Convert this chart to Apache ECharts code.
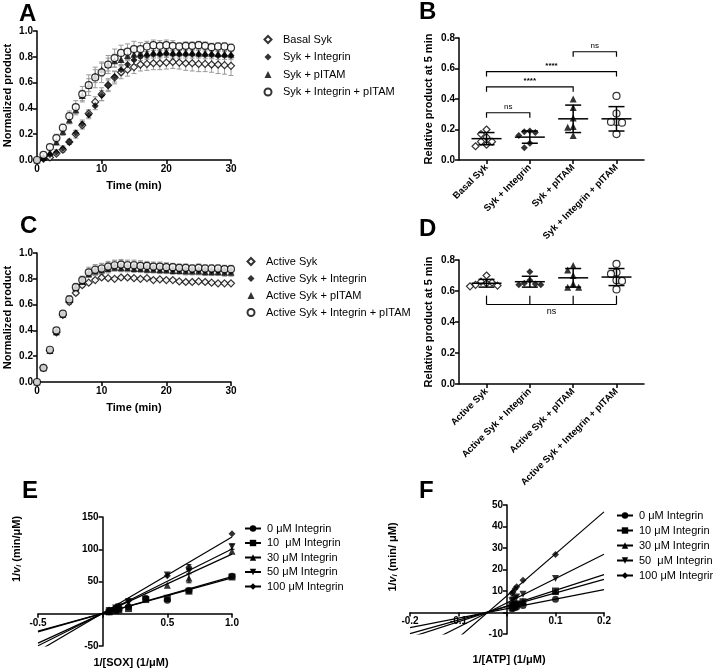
<!DOCTYPE html>
<html>
<head>
<meta charset="utf-8">
<script src="https://cdn.jsdelivr.net/npm/echarts@6/dist/echarts.min.js"></script>
<style>
  html, body { margin: 0; padding: 0; background: #fff; }
  #chart { width: 713px; height: 670px; }
</style>
</head>
<body>
<div id="chart"></div>
<script>
// ---- dados -------------------------------------------------------------
// A: tempo x produto normalizado (Syk basal)
var timeMin = [0,1,2,3,4,5,6,7,8,9,10,11,12,13,14,15,16,17,18,19,20,21,22,23,24,25,26,27,28,29,30];
var basalSyk      = [0,0.01,0.02,0.05,0.08,0.14,0.20,0.27,0.36,0.45,0.51,0.58,0.64,0.68,0.70,0.72,0.74,0.745,0.75,0.75,0.755,0.76,0.755,0.75,0.75,0.745,0.745,0.74,0.74,0.735,0.73];
var sykIntegrin   = [0,0.01,0.04,0.06,0.09,0.14,0.21,0.28,0.35,0.42,0.50,0.58,0.645,0.70,0.74,0.775,0.80,0.81,0.82,0.82,0.825,0.82,0.82,0.82,0.82,0.82,0.815,0.815,0.81,0.81,0.81];
var sykPitam      = [0,0.02,0.06,0.14,0.22,0.31,0.39,0.50,0.58,0.65,0.70,0.74,0.77,0.78,0.81,0.82,0.83,0.83,0.835,0.835,0.84,0.835,0.835,0.835,0.835,0.83,0.83,0.83,0.825,0.825,0.82];
var sykIntPitam   = [0,0.04,0.10,0.17,0.25,0.34,0.41,0.51,0.58,0.64,0.68,0.74,0.79,0.83,0.84,0.86,0.86,0.88,0.89,0.885,0.89,0.885,0.88,0.885,0.885,0.89,0.885,0.875,0.88,0.88,0.87];
var basalSykErr   = [0,0.01,0.01,0.015,0.02,0.02,0.03,0.03,0.03,0.04,0.05,0.05,0.05,0.05,0.05,0.05,0.05,0.05,0.05,0.05,0.05,0.05,0.05,0.055,0.06,0.06,0.06,0.06,0.07,0.07,0.075];
var sykIntegrinErr= [0,0.01,0.01,0.02,0.02,0.02,0.02,0.03,0.03,0.03,0.04,0.04,0.04,0.04,0.04,0.035,0.03,0.03,0.03,0.03,0.03,0.03,0.03,0.03,0.03,0.03,0.03,0.03,0.03,0.03,0.03];
var sykPitamErr   = [0,0.01,0.02,0.02,0.03,0.03,0.04,0.04,0.05,0.05,0.05,0.05,0.05,0.05,0.04,0.04,0.04,0.04,0.03,0.03,0.03,0.03,0.03,0.03,0.03,0.03,0.03,0.03,0.03,0.03,0.03];
var sykIntPitamErr= [0,0.01,0.02,0.03,0.03,0.04,0.05,0.06,0.08,0.08,0.08,0.07,0.07,0.06,0.06,0.06,0.05,0.04,0.04,0.04,0.04,0.04,0.03,0.03,0.03,0.03,0.03,0.03,0.03,0.03,0.03];

// C: Syk ativa
var activeSyk         = [0,0.11,0.245,0.385,0.52,0.62,0.69,0.75,0.77,0.79,0.81,0.805,0.80,0.81,0.81,0.805,0.80,0.805,0.79,0.795,0.79,0.79,0.78,0.775,0.775,0.78,0.775,0.77,0.765,0.765,0.765];
var activeIntegrin    = [0,0.11,0.245,0.39,0.525,0.635,0.73,0.79,0.845,0.865,0.875,0.885,0.90,0.90,0.895,0.895,0.89,0.89,0.885,0.885,0.88,0.875,0.875,0.875,0.87,0.87,0.87,0.865,0.865,0.865,0.865];
var activePitam       = [0,0.11,0.245,0.39,0.525,0.64,0.73,0.78,0.84,0.86,0.87,0.88,0.89,0.885,0.885,0.88,0.88,0.875,0.875,0.87,0.87,0.865,0.865,0.86,0.86,0.86,0.855,0.855,0.855,0.85,0.85];
var activeIntPitam    = [0,0.11,0.25,0.40,0.53,0.64,0.735,0.79,0.85,0.87,0.88,0.895,0.905,0.91,0.905,0.905,0.90,0.90,0.895,0.895,0.89,0.89,0.885,0.885,0.88,0.885,0.88,0.88,0.88,0.875,0.875];
var activeSykErr      = [0,0.01,0.015,0.02,0.02,0.02,0.015,0.015,0.01,0.01,0.01,0.01,0.01,0.01,0.01,0.01,0.01,0.01,0.01,0.01,0.01,0.01,0.01,0.01,0.01,0.01,0.01,0.01,0.01,0.01,0.01];
var activeIntegrinErr = [0,0.01,0.015,0.02,0.02,0.03,0.03,0.03,0.03,0.04,0.04,0.04,0.04,0.04,0.04,0.04,0.04,0.035,0.035,0.035,0.035,0.035,0.035,0.035,0.035,0.035,0.035,0.035,0.035,0.035,0.035];
var activePitamErr    = [0,0.01,0.015,0.02,0.02,0.03,0.03,0.03,0.03,0.03,0.03,0.03,0.03,0.03,0.03,0.03,0.03,0.03,0.03,0.03,0.03,0.03,0.03,0.03,0.03,0.03,0.03,0.03,0.03,0.03,0.03];
var activeIntPitamErr = [0,0.01,0.015,0.02,0.02,0.03,0.03,0.03,0.04,0.04,0.04,0.04,0.04,0.04,0.04,0.04,0.04,0.035,0.035,0.035,0.035,0.03,0.03,0.03,0.03,0.03,0.03,0.03,0.03,0.03,0.03];

// B: produto relativo em 5 min
var groupsB = ['Basal Syk', 'Syk + Integrin', 'Syk + pITAM', 'Syk + Integrin + pITAM'];
var pointsB = [
    [0.20, 0.17, 0.15, 0.12, 0.12, 0.10, 0.09],
    [0.19, 0.185, 0.18, 0.16, 0.11, 0.08],
    [0.40, 0.345, 0.275, 0.22, 0.215, 0.16],
    [0.42, 0.305, 0.25, 0.25, 0.245, 0.17]
];
var meansB = [0.14, 0.15, 0.27, 0.27];
var sdB    = [0.04, 0.04, 0.09, 0.08];
var bracketFromB = [0, 0, 0, 2];
var bracketToB   = [1, 2, 3, 3];
var bracketYB    = [0.31, 0.48, 0.58, 0.71];
var bracketTextB = ['ns', '****', '****', 'ns'];

// D: Syk ativa em 5 min
var groupsD = ['Active Syk', 'Active Syk + Integrin', 'Active Syk + pITAM', 'Active Syk + Integrin + pITAM'];
var pointsD = [
    [0.70, 0.66, 0.655, 0.65, 0.64, 0.635, 0.63],
    [0.725, 0.67, 0.65, 0.645, 0.64, 0.64],
    [0.765, 0.735, 0.70, 0.645, 0.625, 0.625],
    [0.775, 0.72, 0.71, 0.67, 0.665, 0.61]
];
var meansD = [0.65, 0.66, 0.685, 0.69];
var sdD    = [0.025, 0.035, 0.06, 0.055];
var bracketYD = 0.513, bracketTopD = 0.57;

// E: 1/[SOX]
var namesE = ['0 μM Integrin', '10  μM Integrin', '30 μM Integrin', '50 μM Integrin', '100 μM Integrin'];
var soxInv = [0.05, 0.1, 0.125, 0.2, 0.333, 0.5, 0.667, 1.0];
var rateE = [
    [3, 6, 7, 11, 24, 21, 36, 58],
    [3, 5, 6, 8, 22, 24, 35, 57],
    [4, 8, 10, 15, null, 44, 55, 97],
    [5, 9, 11, 19, null, 60, 66, 104],
    [6, 10, 12, 20, null, 59, 72, 124]
];
var errE = [
    [0, 0, 0, 0, 2, 2, 2, 0],
    [0, 0, 0, 0, 0, 0, 0, 0],
    [0, 0, 0, 0, 0, 0, 7, 0],
    [0, 0, 0, 0, 0, 0, 0, 4],
    [0, 0, 0, 0, 0, 0, 4, 0]
];
var slopeE = [57, 55, 92, 100, 118];
var interceptE = [0.5, 0.5, 0.5, 0.5, 1];

// F: 1/[ATP]
var namesF = ['0 μM Integrin', '10 μM Integrin', '30 μM Integrin', '50  μM Integrin', '100 μM Integrin'];
var atpInv = [0.01, 0.0125, 0.0167, 0.02, 0.033, 0.1];
var rateF = [
    [1.8, 2.0, 2.3, 2.6, 3.2, 6.2],
    [3.2, 3.4, 3.7, 4.0, 5.0, 10.0],
    [3.5, 3.8, 4.2, 4.5, 5.2, 9.8],
    [5.5, 5.8, 6.5, 7.2, 8.5, 15.8],
    [9.0, 9.5, 11.0, 12.0, 15.0, 27.0]
];
var slopeF = [44, 63, 73, 113, 195];
var interceptF = [1.8, 2.8, 3.0, 4.5, 7.8];

// ---- estilos -----------------------------------------------------------
var FONT = 'Liberation Sans, Arial, sans-serif';
var invTri = 'path://M0,0 L10,0 L5,9 Z';
var openStyle = { color: '#fff', borderColor: '#000', borderWidth: 1.2 };
var fillStyle = { color: '#000' };
var kinSymbols = ['circle', 'rect', 'triangle', invTri, 'diamond'];

// grades (posicao em px)
var grids = [
    { left: 37, top: 31, width: 194, height: 129 },
    { left: 459, top: 38, width: 185, height: 122 },
    { left: 37, top: 253, width: 194, height: 129 },
    { left: 459, top: 260, width: 185, height: 124 },
    { left: 38, top: 517, width: 194, height: 129 },
    { left: 410, top: 505, width: 194, height: 129 }
];

function axis(extra) {
    var base = {
        axisLine: { onZero: false, lineStyle: { color: '#000', width: 1.5 } },
        axisTick: { length: 4, lineStyle: { color: '#000', width: 1.5 } },
        axisLabel: { color: '#000', fontWeight: 'bold', fontSize: 10, fontFamily: FONT, margin: 4 },
        splitLine: { show: false },
        nameTextStyle: { color: '#000', fontWeight: 'bold', fontSize: 11, fontFamily: FONT },
        nameLocation: 'middle'
    };
    for (var k in extra) {
        if (typeof extra[k] === 'object' && base[k] && !Array.isArray(extra[k])) {
            base[k] = Object.assign({}, base[k], extra[k]);
        } else {
            base[k] = extra[k];
        }
    }
    return base;
}
function zeroHidden(fix) {
    return function (v) { return Math.abs(v) < 1e-9 ? '' : (fix ? v.toFixed(fix) : String(v)); };
}
// desloca o eixo para passar pelo zero do outro eixo (com rotulos juntos)
function zeroOffset(len, min, max) {
    return -len * (0 - min) / (max - min);
}

// barra de erro para as curvas
function errorBar(color, cap) {
    return function (params, api) {
        var e = api.value(2);
        if (!e) return null;
        var x = api.value(0), y = api.value(1);
        var top = api.coord([x, y + e]), bot = api.coord([x, y - e]);
        var ls = { stroke: color, lineWidth: 1 };
        return { type: 'group', children: [
            { type: 'line', shape: { x1: top[0], y1: top[1], x2: bot[0], y2: bot[1] }, style: ls },
            { type: 'line', shape: { x1: top[0] - cap, y1: top[1], x2: top[0] + cap, y2: top[1] }, style: ls },
            { type: 'line', shape: { x1: bot[0] - cap, y1: bot[1], x2: bot[0] + cap, y2: bot[1] }, style: ls }
        ]};
    };
}

// media +- DP
function meanSd(params, api) {
    var i = api.value(0), m = api.value(1), s = api.value(2);
    var c = api.coord([i, m]), t = api.coord([i, m + s]), b = api.coord([i, m - s]);
    var ls = { stroke: '#000', lineWidth: 1.5 };
    return { type: 'group', children: [
        { type: 'line', shape: { x1: c[0] - 15, y1: c[1], x2: c[0] + 15, y2: c[1] }, style: ls },
        { type: 'line', shape: { x1: t[0], y1: t[1], x2: b[0], y2: b[1] }, style: ls },
        { type: 'line', shape: { x1: t[0] - 8, y1: t[1], x2: t[0] + 8, y2: t[1] }, style: ls },
        { type: 'line', shape: { x1: b[0] - 8, y1: b[1], x2: b[0] + 8, y2: b[1] }, style: ls }
    ]};
}

// espalha os pontos que se sobrepoem (tipo GraphPad)
function spread(vals, unitPx, size, step) {
    var order = vals.map(function (v, i) { return i; }).sort(function (a, b) { return vals[b] - vals[a]; });
    var placed = [], off = vals.map(function () { return 0; });
    var cands = [0, -1, 1, -2, 2, -3, 3];
    order.forEach(function (i) {
        for (var c = 0; c < cands.length; c++) {
            var dx = cands[c] * step;
            var clash = placed.some(function (p) {
                return Math.abs(p.dx - dx) < step && Math.abs(p.v - vals[i]) * unitPx < size;
            });
            if (!clash) { off[i] = dx; placed.push({ dx: dx, v: vals[i] }); break; }
        }
    });
    return off;
}

var series = [];

function addTimeSeries(grid, name, vals, errs, symbol, style) {
    series.push({
        type: 'custom', xAxisIndex: grid, yAxisIndex: grid, z: 1, silent: true,
        data: timeMin.map(function (t, i) { return [t, vals[i], errs[i]]; }),
        renderItem: errorBar('#9a9a9a', 2.5)
    });
    series.push({
        type: 'scatter', name: name, xAxisIndex: grid, yAxisIndex: grid, z: 3,
        symbol: symbol, symbolSize: 7,
        itemStyle: style,
        data: timeMin.map(function (t, i) { return [t, vals[i]]; })
    });
}
addTimeSeries(0, 'Basal Syk', basalSyk, basalSykErr, 'diamond', openStyle);
addTimeSeries(0, 'Syk + Integrin', sykIntegrin, sykIntegrinErr, 'diamond', fillStyle);
addTimeSeries(0, 'Syk + pITAM', sykPitam, sykPitamErr, 'triangle', fillStyle);
addTimeSeries(0, 'Syk + Integrin + pITAM', sykIntPitam, sykIntPitamErr, 'circle', openStyle);

addTimeSeries(2, 'Active Syk', activeSyk, activeSykErr, 'diamond', openStyle);
addTimeSeries(2, 'Active Syk + Integrin', activeIntegrin, activeIntegrinErr, 'diamond', fillStyle);
addTimeSeries(2, 'Active Syk + pITAM', activePitam, activePitamErr, 'triangle', fillStyle);
addTimeSeries(2, 'Active Syk + Integrin + pITAM', activeIntPitam, activeIntPitamErr, 'circle', openStyle);

var dotSymbols = [['diamond', openStyle], ['diamond', fillStyle], ['triangle', fillStyle], ['circle', openStyle]];
function addDotPlot(grid, points, means, sds, unitPx) {
    points.forEach(function (vals, g) {
        var off = spread(vals, unitPx, 7, 5.5);
        series.push({
            type: 'scatter', xAxisIndex: grid, yAxisIndex: grid, z: 2,
            symbol: dotSymbols[g][0], symbolSize: 7, itemStyle: dotSymbols[g][1],
            data: vals.map(function (v, k) { return { value: [g, v], symbolOffset: [off[k], 0] }; })
        });
    });
    series.push({
        type: 'custom', xAxisIndex: grid, yAxisIndex: grid, z: 4, silent: true,
        data: means.map(function (m, g) { return [g, m, sds[g]]; }),
        renderItem: meanSd
    });
}
addDotPlot(1, pointsB, meansB, sdB, 122 / 0.8);
addDotPlot(3, pointsD, meansD, sdD, 124 / 0.8);

// colchetes de significancia (B)
series.push({
    type: 'custom', xAxisIndex: 1, yAxisIndex: 1, z: 5, silent: true,
    data: bracketYB.map(function (y, i) { return [bracketFromB[i], bracketToB[i], y]; }),
    renderItem: function (params, api) {
        var a = api.coord([api.value(0), api.value(2)]), b = api.coord([api.value(1), api.value(2)]);
        var txt = bracketTextB[params.dataIndex];
        return { type: 'group', children: [
            { type: 'polyline', shape: { points: [[a[0], a[1] + 5], a, b, [b[0], b[1] + 5]] }, style: { stroke: '#000', lineWidth: 1.2, fill: null } },
            { type: 'text', x: (a[0] + b[0]) / 2, y: a[1] - 2,
              style: { text: txt, align: 'center', verticalAlign: 'bottom', fill: '#000', font: (txt === 'ns' ? '8px ' : 'bold 8px ') + FONT } }
        ]};
    }
});
// colchete (D)
series.push({
    type: 'custom', xAxisIndex: 3, yAxisIndex: 3, z: 5, silent: true,
    data: [[0, 3, bracketYD, bracketTopD]],
    renderItem: function (params, api) {
        var y = api.value(2), yt = api.value(3);
        var kids = [];
        var a = api.coord([0, y]), b = api.coord([3, y]);
        kids.push({ type: 'line', shape: { x1: a[0], y1: a[1], x2: b[0], y2: b[1] }, style: { stroke: '#000', lineWidth: 1.2 } });
        for (var g = 0; g < 4; g++) {
            var p = api.coord([g, y]), q = api.coord([g, yt]);
            kids.push({ type: 'line', shape: { x1: p[0], y1: p[1], x2: q[0], y2: q[1] }, style: { stroke: '#000', lineWidth: 1.2 } });
        }
        kids.push({ type: 'text', x: (a[0] + b[0]) / 2, y: a[1] + 3,
            style: { text: 'ns', align: 'center', verticalAlign: 'top', fill: '#000', font: '9px ' + FONT } });
        return { type: 'group', children: kids };
    }
});

// Lineweaver-Burk (E, F)
function addKinetics(grid, names, xs, rates, errs, slopes, ints, xmin, xmax) {
    names.forEach(function (name, s) {
        series.push({
            type: 'line', name: name, xAxisIndex: grid, yAxisIndex: grid, z: 2, clip: true,
            symbol: kinSymbols[s], symbolSize: 7, showSymbol: false,
            itemStyle: { color: '#000' }, lineStyle: { color: '#000', width: 1.2 },
            data: [[xmin, ints[s] + slopes[s] * xmin], [xmax, ints[s] + slopes[s] * xmax]]
        });
    });
    names.forEach(function (name, s) {
        series.push({
            type: 'scatter', name: name, xAxisIndex: grid, yAxisIndex: grid, z: 3,
            symbol: kinSymbols[s], symbolSize: 7, itemStyle: { color: '#000' },
            data: xs.map(function (x, i) { return [x, rates[s][i]]; }).filter(function (d) { return d[1] !== null; })
        });
        if (errs) {
            series.push({
                type: 'custom', xAxisIndex: grid, yAxisIndex: grid, z: 3, silent: true,
                data: xs.map(function (x, i) { return [x, rates[s][i], errs[s][i]]; }).filter(function (d) { return d[1] !== null; }),
                renderItem: errorBar('#000', 2.5)
            });
        }
    });
}
addKinetics(4, namesE, soxInv, rateE, errE, slopeE, interceptE, -0.5, 1.0);
addKinetics(5, namesF, atpInv, rateF, null, slopeF, interceptF, -0.2, 0.2);

function legend(names, left, top, line, gap) {
    return {
        orient: 'vertical', left: left, top: top, selectedMode: false, padding: 0,
        itemWidth: line ? 16 : 7, itemHeight: line ? 8 : 7, itemGap: gap,
        textStyle: { color: '#000', fontSize: 11, fontFamily: FONT, padding: [0, 0, 0, line ? 1 : 6.5] },
        data: names
    };
}

var richTitle = {
    it: { fontStyle: 'italic', fontWeight: 'bold', fontSize: 11, fontFamily: FONT, fill: '#000' },
    sub: { fontStyle: 'italic', fontWeight: 'bold', fontSize: 7, fontFamily: FONT, fill: '#000', padding: [5, 0, 0, 0] }
};
function title(txt, x, y, vertical) {
    return { type: 'text', x: x, y: y, rotation: vertical ? Math.PI / 2 : 0,
        style: { text: txt, align: 'center', verticalAlign: 'middle', fill: '#000',
                 font: 'bold 11px ' + FONT, rich: richTitle } };
}
function letter(txt, x, y) {
    return { type: 'text', x: x, y: y, style: { text: txt, font: 'bold 24px ' + FONT, fill: '#000', verticalAlign: 'middle' } };
}

var option = {
    animation: false,
    backgroundColor: '#fff',
    textStyle: { fontFamily: FONT },
    grid: grids.map(function (g) { return Object.assign({ outerBoundsMode: 'none' }, g); }),
    xAxis: [
        axis({ gridIndex: 0, type: 'value', min: 0, max: 30, interval: 10, name: 'Time (min)', nameGap: 20 }),
        axis({ gridIndex: 1, type: 'value', min: -0.635, max: 3.635,
               axisTick: { customValues: [0, 1, 2, 3] },
               axisLabel: { customValues: [0, 1, 2, 3], rotate: 45, fontSize: 9.5, margin: 6,
                            formatter: function (v) { return groupsB[Math.round(v)]; } } }),
        axis({ gridIndex: 2, type: 'value', min: 0, max: 30, interval: 10, name: 'Time (min)', nameGap: 20 }),
        axis({ gridIndex: 3, type: 'value', min: -0.635, max: 3.635,
               axisTick: { customValues: [0, 1, 2, 3] },
               axisLabel: { customValues: [0, 1, 2, 3], rotate: 45, fontSize: 9.5, margin: 6,
                            formatter: function (v) { return groupsD[Math.round(v)]; } } }),
        axis({ gridIndex: 4, type: 'value', min: -0.5, max: 1.0, interval: 0.5,
               offset: zeroOffset(grids[4].height, -50, 150),
               axisLabel: { formatter: zeroHidden(1) } }),
        axis({ gridIndex: 5, type: 'value', min: -0.2, max: 0.2, interval: 0.1,
               offset: zeroOffset(grids[5].height, -10, 50),
               axisLabel: { formatter: zeroHidden(1) } })
    ],
    yAxis: [
        axis({ gridIndex: 0, type: 'value', min: 0, max: 1, interval: 0.2, name: 'Normalized product', nameGap: 24,
               axisLabel: { formatter: function (v) { return v.toFixed(1); } } }),
        axis({ gridIndex: 1, type: 'value', min: 0, max: 0.8, interval: 0.2, name: 'Relative product at 5 min', nameGap: 25,
               axisLabel: { formatter: function (v) { return v.toFixed(1); } } }),
        axis({ gridIndex: 2, type: 'value', min: 0, max: 1, interval: 0.2, name: 'Normalized product', nameGap: 24,
               axisLabel: { formatter: function (v) { return v.toFixed(1); } } }),
        axis({ gridIndex: 3, type: 'value', min: 0, max: 0.8, interval: 0.2, name: 'Relative product at 5 min', nameGap: 25,
               axisLabel: { formatter: function (v) { return v.toFixed(1); } } }),
        axis({ gridIndex: 4, type: 'value', min: -50, max: 150, interval: 50,
               offset: zeroOffset(grids[4].width, -0.5, 1.0),
               axisLabel: { formatter: zeroHidden(0) } }),
        axis({ gridIndex: 5, type: 'value', min: -10, max: 50, interval: 10,
               offset: zeroOffset(grids[5].width, -0.2, 0.2),
               axisLabel: { formatter: zeroHidden(0) } })
    ],
    legend: [
        legend(['Basal Syk', 'Syk + Integrin', 'Syk + pITAM', 'Syk + Integrin + pITAM'], 263.5, 34, false, 6.5),
        legend(['Active Syk', 'Active Syk + Integrin', 'Active Syk + pITAM', 'Active Syk + Integrin + pITAM'], 246.5, 256, false, 6),
        legend(namesE, 244, 523, true, 3.5),
        legend(namesF, 616, 510, true, 4)
    ],
    graphic: [
        letter('A', 19, 14), letter('B', 419, 12), letter('C', 20, 226),
        letter('D', 419, 229), letter('E', 22, 491), letter('F', 419, 491),
        title('1/{it|v}{sub|i} (min/μM)', 17, 549, true),
        title('1/[SOX] (1/μM)', 131, 663, false),
        title('1/{it|v}{sub|i} (min/ μM)', 393, 557, true),
        title('1/[ATP] (1/μM)', 509, 660, false)
    ],
    series: series
};

var myChart = echarts.init(document.getElementById('chart'), null, { renderer: 'canvas' });
myChart.setOption(option);
</script>
</body>
</html>
